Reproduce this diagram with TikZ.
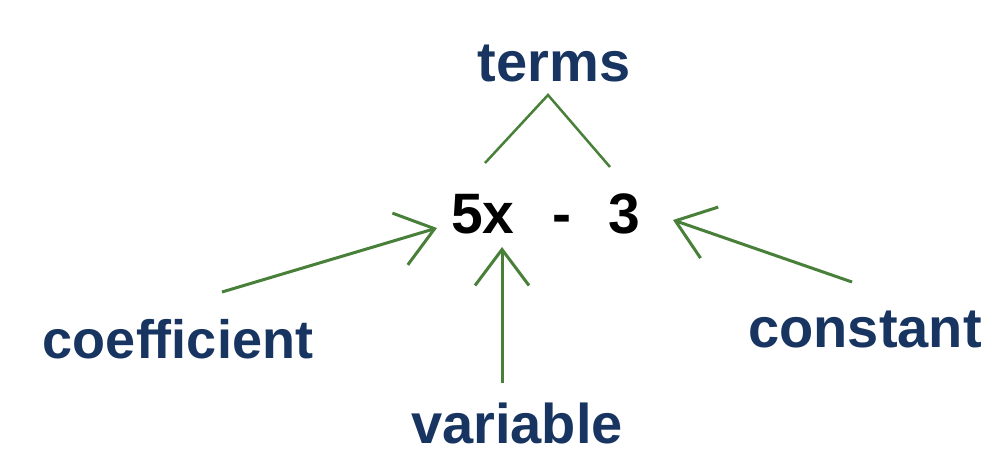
\documentclass[tikz,border=0pt]{standalone}
\usepackage{fontspec}
\setmainfont{Liberation Sans}
\usetikzlibrary{arrows.meta}
\definecolor{navy}{RGB}{24,52,96}
\definecolor{arrowgreen}{RGB}{72,128,58}
\begin{document}
\begin{tikzpicture}[x=1pt,y=-1pt,
  lbl/.style={inner sep=0pt,anchor=base,text=navy,font=\bfseries\fontsize{56}{60}\selectfont},
  expr/.style={inner sep=0pt,anchor=base,text=black,font=\bfseries\fontsize{57}{60}\selectfont},
  conn/.style={draw=arrowgreen,line width=3pt},
  arr/.style={conn,-{Straight Barb[length=36pt,width=54pt,line width=3pt]}}]
\fill[white] (0,0) rectangle (996,468);
\useasboundingbox (0,0) rectangle (996,468);
% labels
\node[lbl] (terms) at (554,82) {terms};
\node[lbl,font=\bfseries\fontsize{54}{60}\selectfont] (coef) at (178,358) {coefficient};
\node[lbl] (var) at (517,443) {variable};
\node[lbl] (const) at (865,347) {constant};
% expression
\node[expr] (fivex) at (483,233) {5x};
\node[expr] (minus) at (562,233) {-};
\node[expr] (three) at (624,233) {3};
% terms branches
\coordinate (apex) at (548,95);
\coordinate (tl) at (485,163);
\coordinate (tr) at (610,167);
\draw[conn,line width=2.5pt] (tl) -- (apex) -- (tr);
% arrows
\coordinate (coefTail) at (222,292);
\coordinate (coefTip) at (437,228);
\coordinate (varTail) at (502,383);
\coordinate (varTip) at (502,247);
\coordinate (constTail) at (852,282);
\coordinate (constTip) at (673,220);
\draw[arr] (coefTail) -- (coefTip);
\draw[arr] (varTail) -- (varTip);
\draw[arr] (constTail) -- (constTip);
\end{tikzpicture}
\end{document}
